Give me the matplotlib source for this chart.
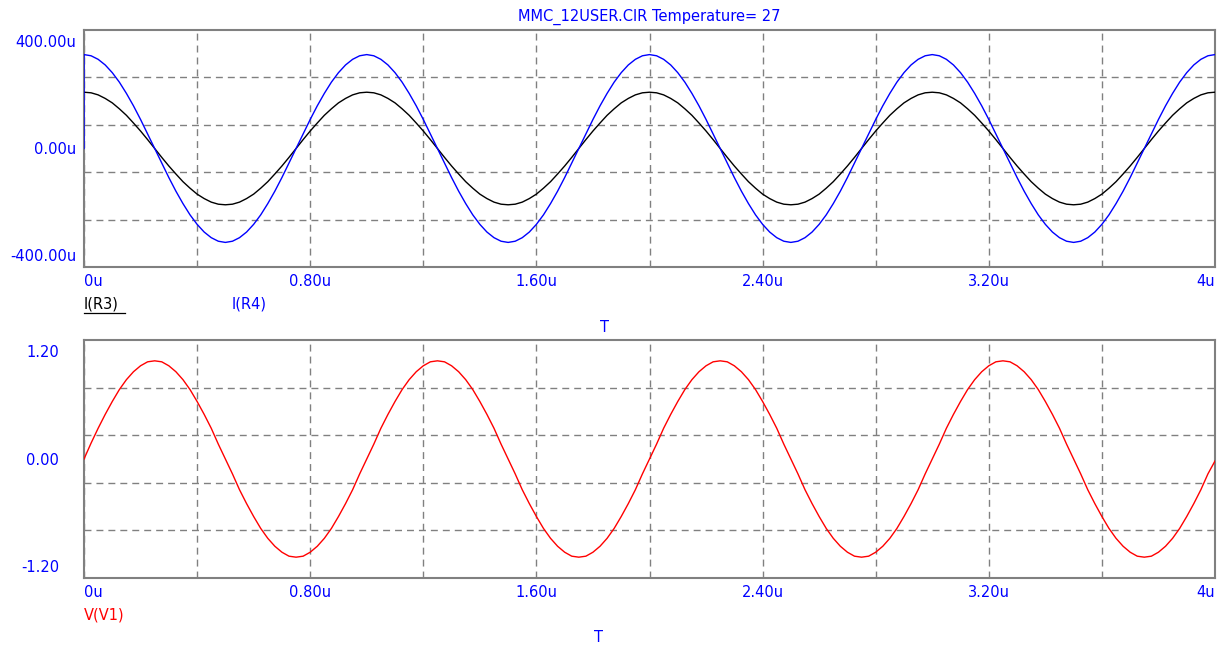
import numpy as np
import matplotlib
matplotlib.use("Agg")
import matplotlib.pyplot as plt
from matplotlib.lines import Line2D
from matplotlib.transforms import ScaledTranslation

# sample grid in microseconds (simulation output, step 0.025u)
t_us = np.round(np.arange(0, 4.0001, 0.025), 3)

# I(R3) in uA (black), one period per row
i_r3 = [190, 188, 181, 169, 154, 134, 112, 86, 59, 30, 0, -30, -59, -86, -112, -134, -154, -169, -181, -188,
        -190, -188, -181, -169, -154, -134, -112, -86, -59, -30, 0, 30, 59, 86, 112, 134, 154, 169, 181, 188,
        190, 188, 181, 169, 154, 134, 112, 86, 59, 30, 0, -30, -59, -86, -112, -134, -154, -169, -181, -188,
        -190, -188, -181, -169, -154, -134, -112, -86, -59, -30, 0, 30, 59, 86, 112, 134, 154, 169, 181, 188,
        190, 188, 181, 169, 154, 134, 112, 86, 59, 30, 0, -30, -59, -86, -112, -134, -154, -169, -181, -188,
        -190, -188, -181, -169, -154, -134, -112, -86, -59, -30, 0, 30, 59, 86, 112, 134, 154, 169, 181, 188,
        190, 188, 181, 169, 154, 134, 112, 86, 59, 30, 0, -30, -59, -86, -112, -134, -154, -169, -181, -188,
        -190, -188, -181, -169, -154, -134, -112, -86, -59, -30, 0, 30, 59, 86, 112, 134, 154, 169, 181, 188,
        190]

# I(R4) in uA (blue), first point is 0 at t=0 then jumps up
t_r4 = np.concatenate([[0.0], t_us])
i_r4 = [0,
        317, 313, 301, 282, 256, 224, 186, 144, 98, 49, 0, -49, -98, -144, -186, -224, -256, -282, -301, -313,
        -317, -313, -301, -282, -256, -224, -186, -144, -98, -49, 0, 49, 98, 144, 186, 224, 256, 282, 301, 313,
        317, 313, 301, 282, 256, 224, 186, 144, 98, 49, 0, -49, -98, -144, -186, -224, -256, -282, -301, -313,
        -317, -313, -301, -282, -256, -224, -186, -144, -98, -49, 0, 49, 98, 144, 186, 224, 256, 282, 301, 313,
        317, 313, 301, 282, 256, 224, 186, 144, 98, 49, 0, -49, -98, -144, -186, -224, -256, -282, -301, -313,
        -317, -313, -301, -282, -256, -224, -186, -144, -98, -49, 0, 49, 98, 144, 186, 224, 256, 282, 301, 313,
        317, 313, 301, 282, 256, 224, 186, 144, 98, 49, 0, -49, -98, -144, -186, -224, -256, -282, -301, -313,
        -317, -313, -301, -282, -256, -224, -186, -144, -98, -49, 0, 49, 98, 144, 186, 224, 256, 282, 301, 313,
        317]

# V(V1) in volts (red)
v_v1 = [0, 0.16, 0.31, 0.45, 0.58, 0.70, 0.80, 0.88, 0.94, 0.98, 0.99, 0.98, 0.94, 0.88, 0.80, 0.70, 0.58, 0.45, 0.31, 0.15,
        0, -0.15, -0.31, -0.45, -0.58, -0.70, -0.80, -0.88, -0.94, -0.98, -0.99, -0.98, -0.94, -0.88, -0.80, -0.70, -0.58, -0.45, -0.31, -0.15,
        0, 0.15, 0.31, 0.45, 0.58, 0.70, 0.80, 0.88, 0.94, 0.98, 0.99, 0.98, 0.94, 0.88, 0.80, 0.70, 0.58, 0.45, 0.31, 0.15,
        0, -0.15, -0.31, -0.45, -0.58, -0.70, -0.80, -0.88, -0.94, -0.98, -0.99, -0.98, -0.94, -0.88, -0.80, -0.70, -0.58, -0.45, -0.31, -0.15,
        0, 0.15, 0.31, 0.45, 0.58, 0.70, 0.80, 0.88, 0.94, 0.98, 0.99, 0.98, 0.94, 0.88, 0.80, 0.70, 0.58, 0.45, 0.31, 0.15,
        0, -0.15, -0.31, -0.45, -0.58, -0.70, -0.80, -0.88, -0.94, -0.98, -0.99, -0.98, -0.94, -0.88, -0.80, -0.70, -0.58, -0.45, -0.31, -0.15,
        0, 0.15, 0.31, 0.45, 0.58, 0.70, 0.80, 0.88, 0.94, 0.98, 0.99, 0.98, 0.94, 0.88, 0.80, 0.70, 0.58, 0.45, 0.31, 0.15,
        0, -0.15, -0.31, -0.45, -0.58, -0.70, -0.80, -0.88, -0.94, -0.98, -0.99, -0.98, -0.94, -0.88, -0.80, -0.70, -0.58, -0.45, -0.31, -0.15,
        -0.02]

x_ticks = [0, 0.8, 1.6, 2.4, 3.2, 4.0]
x_labels = ["0u", "0.80u", "1.60u", "2.40u", "3.20u", "4u"]
x_grid = [0.4, 1.2, 2.0, 2.8, 3.6]

top_ticks = [400, 0, -400]
top_labels = ["400.00u", "0.00u", "-400.00u"]
top_grid = [240, 80, -80, -240]

bot_ticks = [1.2, 0, -1.2]
bot_labels = ["1.20", "0.00", "-1.20"]
bot_grid = [0.72, 0.24, -0.24, -0.72]

BLUE = "#0000ff"
GRID = "#808080"
FS = 10.5

plt.rcParams['font.family'] = ['DejaVu Sans']

fig = plt.figure(figsize=(12.25, 6.46), dpi=100)
W, H = 1225.0, 646.0
ax1 = fig.add_axes([84 / W, 1 - 267 / H, 1131 / W, 237 / H])
ax2 = fig.add_axes([84 / W, 1 - 578 / H, 1131 / W, 238 / H])


def style_axes(ax, yt, ylab, yg, ylim, ypad):
    ax.set_xlim(0, 4)
    ax.set_ylim(*ylim)
    ax.set_xticks(x_ticks)
    ax.set_xticklabels(x_labels)
    ax.set_xticks(x_grid, minor=True)
    ax.set_yticks(yt)
    ax.set_yticklabels(ylab)
    ax.set_yticks(yg, minor=True)
    ax.tick_params(which='both', length=0, colors=BLUE, labelsize=FS)
    ax.tick_params(axis='x', pad=5)
    ax.tick_params(axis='y', pad=ypad)
    ls = (0, (5, 3.6))
    ax.grid(True, axis='x', which='both', color=GRID, linestyle=ls, linewidth=1.0)
    ax.grid(True, axis='y', which='minor', color=GRID, linestyle=ls, linewidth=1.0)
    ax.grid(False, axis='y', which='major')
    for s in ax.spines.values():
        s.set_color(GRID)
        s.set_linewidth(1.5)
    # first / last x label hug the frame ends
    xl = ax.get_xticklabels()
    xl[0].set_ha('left')
    xl[-1].set_ha('right')
    # end y labels sit inside the frame range
    yl = ax.get_yticklabels()
    yl[0].set_va('top')
    yl[0].set_transform(yl[0].get_transform() + ScaledTranslation(0, -0.05, fig.dpi_scale_trans))
    yl[-1].set_va('bottom')
    yl[-1].set_transform(yl[-1].get_transform() + ScaledTranslation(0, 0.03, fig.dpi_scale_trans))


style_axes(ax1, top_ticks, top_labels, top_grid, (-400, 400), 5.5)
style_axes(ax2, bot_ticks, bot_labels, bot_grid, (-1.2, 1.2), 18)

ax1.plot(t_us, i_r3, color='black', linewidth=1.0, zorder=3)
ax1.plot(t_r4, i_r4, color=BLUE, linewidth=1.0, zorder=4)
ax2.plot(t_us, v_v1, color='#ff0000', linewidth=1.0, zorder=3)

fig.text(649 / W, 1 - 17 / H, "MMC_12USER.CIR Temperature= 27", color=BLUE,
         fontsize=FS, ha='center', va='center')

fig.text(84 / W, 1 - 304 / H, "I(R3)", color='black', fontsize=FS, ha='left', va='center')
fig.add_artist(Line2D([84 / W, 125 / W], [1 - 313 / H, 1 - 313 / H], color='black', linewidth=0.9))
fig.text(232 / W, 1 - 304 / H, "I(R4)", color=BLUE, fontsize=FS, ha='left', va='center')
fig.text(605 / W, 1 - 327 / H, "T", color=BLUE, fontsize=FS, ha='center', va='center')

fig.text(84 / W, 1 - 615 / H, "V(V1)", color='#ff0000', fontsize=FS, ha='left', va='center')
fig.text(598 / W, 1 - 637 / H, "T", color=BLUE, fontsize=FS, ha='center', va='center')

fig.savefig("out.png", dpi=100, facecolor='white')
